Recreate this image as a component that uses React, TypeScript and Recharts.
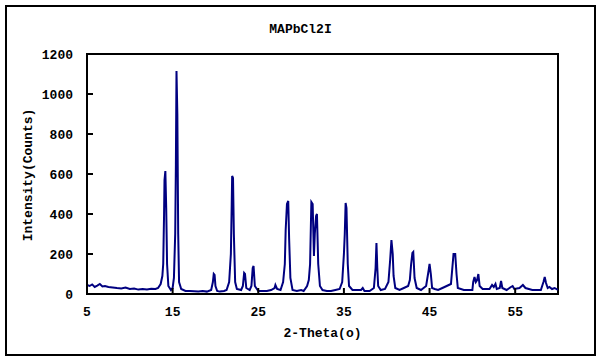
import { LineChart, Line, XAxis, YAxis, ReferenceArea } from 'recharts';

// XRD pattern
const twoTheta = [
  5, 5.3, 5.6, 5.9, 6.2, 6.5, 6.8, 7.1, 7.5, 8, 8.5, 9, 9.5, 10, 10.5, 11, 11.5, 12, 12.5, 13, 13.3, 13.6, 13.8, 13.9,
  14.0, 14.05, 14.15, 14.25, 14.35, 14.5, 14.8, 15.0, 15.15, 15.3, 15.38, 15.45, 15.55, 15.65, 15.75, 16, 16.5, 17, 18,
  18.5, 19, 19.5, 19.7, 19.8, 19.9, 20.0, 20.2, 20.5, 21, 21.3, 21.6, 21.8, 21.9, 21.95, 22.05, 22.15, 22.3, 22.5, 23,
  23.2, 23.35, 23.45, 23.6, 24, 24.2, 24.35, 24.45, 24.6, 25, 26, 26.5, 26.9, 27.0, 27.2, 27.6, 27.9, 28.1, 28.2, 28.35,
  28.5, 28.6, 28.75, 29, 29.5, 30, 30.3, 30.7, 30.9, 31.05, 31.2, 31.35, 31.5, 31.6, 31.75, 31.85, 32.0, 32.2, 32.5, 33,
  33.5, 34, 34.5, 34.8, 35.0, 35.1, 35.2, 35.3, 35.45, 35.6, 36, 37, 37.2, 37.4, 38, 38.5, 38.7, 38.8, 38.9, 39, 39.3,
  39.8, 40.2, 40.4, 40.55, 40.7, 40.8, 41, 41.5, 42, 42.5, 42.7, 42.85, 43.0, 43.1, 43.25, 43.5, 44, 44.6, 44.9, 45.0,
  45.15, 45.3, 45.6, 46, 46.5, 47, 47.5, 47.8, 48.0, 48.15, 48.3, 49, 50, 50.1, 50.25, 50.4, 50.55, 50.7, 50.85, 51.2,
  52, 52.3, 52.5, 52.7, 52.85, 53.2, 53.35, 53.5, 54, 54.5, 54.7, 54.9, 55.5, 55.9, 56.2, 57, 58, 58.3, 58.45, 58.6,
  58.8, 59, 59.3, 59.6, 60,
];

const counts = [
  45, 40, 48, 35, 42, 50, 38, 40, 35, 33, 30, 28, 32, 25, 27, 22, 25, 22, 26, 25, 30, 50, 90, 150,
  400, 570, 615, 430, 150, 40, 20, 30, 80, 300, 650, 1115, 900, 300, 60, 25, 15, 15, 12,
  15, 12, 20, 60, 100, 95, 40, 15, 12, 15, 20, 60, 200, 450, 590, 580, 300, 60, 25, 20,
  40, 105, 100, 30, 20, 40, 130, 140, 40, 15, 15, 20, 30, 45, 25, 20, 60, 150, 320, 450,
  465, 280, 80, 20, 15, 20, 15, 40, 70, 150, 460, 450, 190, 300, 390, 400, 150, 40, 20, 15,
  15, 20, 25, 60, 200, 300, 455, 430, 150, 40, 20, 20, 30, 15, 15, 30, 130, 255, 130, 40, 20,
  25, 60, 170, 270, 200, 90, 30, 20, 30, 40, 70, 150, 205, 210, 80, 30, 20, 40, 120, 150,
  100, 30, 25, 20, 30, 40, 50, 200, 200, 100, 30, 20, 20, 60, 85, 60, 70, 100, 40, 25,
  25, 45, 35, 50, 25, 30, 65, 30, 20, 35, 40, 25, 30, 45, 30, 20, 20, 60, 85, 55,
  30, 35, 25, 30, 20,
];

const xTicks = [5, 15, 25, 35, 45, 55];
const yTicks = [0, 200, 400, 600, 800, 1000, 1200];

const data = twoTheta.map((t, i) => ({ t, c: counts[i] }));

const font = '"Liberation Mono", monospace';
const tickStyle = { fontSize: 13, fontWeight: 'bold', fill: '#000', fontFamily: font };

export default function App() {
  return (
    <div style={{ position: 'relative', width: 601, height: 361, background: '#fff', fontFamily: font }}>
      <style>{'body { margin: 0; }'}</style>
      <div
        style={{
          position: 'absolute',
          left: 5,
          top: 5,
          width: 591,
          height: 351,
          border: '2px solid #000',
          boxSizing: 'border-box',
        }}
      />
      <div
        style={{
          position: 'absolute',
          left: 0,
          width: 601,
          top: 22,
          textAlign: 'center',
          fontSize: 13,
          fontWeight: 'bold',
        }}
      >
        MAPbCl2I
      </div>
      <div
        style={{
          position: 'absolute',
          left: 28,
          top: 175,
          transform: 'translate(-50%, -50%) rotate(-90deg)',
          fontSize: 13,
          fontWeight: 'bold',
          whiteSpace: 'nowrap',
        }}
      >
        Intensity(Counts)
      </div>
      <div
        style={{
          position: 'absolute',
          left: 0,
          width: 645,
          top: 326,
          textAlign: 'center',
          fontSize: 13,
          fontWeight: 'bold',
        }}
      >
        2-Theta(o)
      </div>
      <LineChart
        width={601}
        height={361}
        data={data}
        margin={{ top: 54, right: 43, left: 27, bottom: 37 }}
        style={{ position: 'absolute', left: 0, top: 0 }}
      >
        <XAxis
          dataKey="t"
          type="number"
          domain={[5, 60]}
          ticks={xTicks}
          height={30}
          tick={tickStyle}
          tickSize={-6}
          tickMargin={19}
          axisLine={{ stroke: '#000', strokeWidth: 2 }}
          tickLine={{ stroke: '#000', strokeWidth: 2 }}
          allowDataOverflow
        />
        <YAxis
          type="number"
          domain={[0, 1200]}
          ticks={yTicks}
          width={60}
          tick={tickStyle}
          tickSize={-6}
          tickMargin={20}
          axisLine={{ stroke: '#000', strokeWidth: 2 }}
          tickLine={{ stroke: '#000', strokeWidth: 2 }}
          allowDataOverflow
        />
        <ReferenceArea x1={5} x2={60} y1={0} y2={1200} fill="none" stroke="#000" strokeWidth={2} />
        <Line
          type="linear"
          dataKey="c"
          stroke="#000080"
          strokeWidth={2}
          dot={false}
          isAnimationActive={false}
        />
      </LineChart>
    </div>
  );
}
